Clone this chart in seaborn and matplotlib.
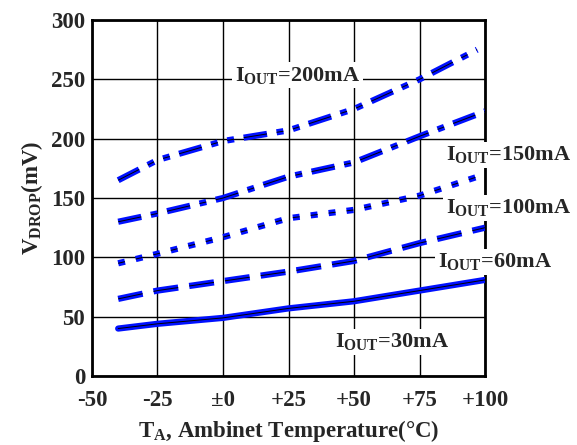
# dropout voltage vs ambient temperature, one line per output current
import matplotlib
matplotlib.use('Agg')
import matplotlib.pyplot as plt
import seaborn as sns
import pandas as pd

temps = [-40, -25, 0, 25, 50, 75, 100]
temps_200 = [-40, -25, 0, 25, 50, 75, 97]

v_30 = [40, 44, 49, 57, 63, 72, 81]
v_60 = [65, 72, 80, 88, 97, 112, 125]
v_100 = [95, 103, 117, 133, 140, 152, 170]
v_150 = [130, 137, 150, 168, 180, 202, 223]
v_200 = [165, 182, 198, 207, 225, 250, 275]

x_ticks = [-50, -25, 0, 25, 50, 75, 100]
x_tick_labels = ['-50', '-25', '±0', '+25', '+50', '+75', '+100']
y_ticks = [0, 50, 100, 150, 200, 250, 300]

sns.set_style('white')
plt.rcParams['font.family'] = ['Liberation Serif', 'DejaVu Serif']
plt.rcParams['font.weight'] = 'bold'
plt.rcParams['mathtext.fontset'] = 'custom'
plt.rcParams['mathtext.rm'] = 'Liberation Serif:bold'
plt.rcParams['mathtext.it'] = 'Liberation Serif:bold'
plt.rcParams['mathtext.bf'] = 'Liberation Serif:bold'
plt.rcParams['lines.scale_dashes'] = False

fig = plt.figure(figsize=(5.77, 4.45), dpi=100)
ax = fig.add_axes([0.1594, 0.155, 0.6812, 0.80])

series = [
    (temps, v_30, '-'),
    (temps, v_60, (0, (18, 8))),
    (temps, v_100, (0, (5, 8))),
    (temps, v_150, (0, (17, 7, 5, 7))),
    (temps_200, v_200, (0, (17, 7, 5, 7, 5, 7))),
]
for xs, ys, ls in series:
    df = pd.DataFrame({'t': xs, 'v': ys})
    sns.lineplot(data=df, x='t', y='v', ax=ax, color='#0010ff', lw=4.5,
                 linestyle=ls, zorder=3)
    sns.lineplot(data=df, x='t', y='v', ax=ax, color='black', lw=0.7,
                 linestyle=ls, zorder=4)

ax.set_xlim(-50, 100)
ax.set_ylim(0, 300)
ax.set_xticks(x_ticks)
ax.set_xticklabels(x_tick_labels)
ax.set_yticks(y_ticks)
ax.tick_params(length=0, labelsize=16.5)
ax.tick_params(axis='x', pad=10)
ax.tick_params(axis='y', pad=5)
for lab in ax.get_xticklabels() + ax.get_yticklabels():
    lab.set_fontweight('bold')
ax.grid(True, color='black', lw=1)
for s in ax.spines.values():
    s.set_linewidth(2)
    s.set_color('black')

ax.set_xlabel(r'$\mathrm{T_A}$, Ambinet Temperature(°C)', fontsize=16.5,
              fontweight='bold', labelpad=5)
ax.set_ylabel(r'$\mathrm{V_{DROP}}$(mV)', fontsize=16.5, fontweight='bold',
              labelpad=4)

box = dict(facecolor='white', edgecolor='none', pad=2)
labels = [
    (-50 + (296 - 92) / 2.6, 300 - (75 - 20) / 1.187, r'$\mathrm{I_{OUT}}$=200mA', 'center'),
    (-50 + (443 - 92) / 2.6, 300 - (155 - 20) / 1.187, r'$\mathrm{I_{OUT}}$=150mA', 'left'),
    (-50 + (443 - 92) / 2.6, 300 - (208 - 20) / 1.187, r'$\mathrm{I_{OUT}}$=100mA', 'left'),
    (-50 + (435 - 92) / 2.6, 300 - (262 - 20) / 1.187, r'$\mathrm{I_{OUT}}$=60mA', 'left'),
    (-50 + (333 - 92) / 2.6, 300 - (342 - 20) / 1.187, r'$\mathrm{I_{OUT}}$=30mA', 'left'),
]
for x, y, txt, ha in labels:
    ax.text(x, y, txt, fontsize=16, fontweight='bold', ha=ha, va='center',
            bbox=box, zorder=5, clip_on=False)

plt.savefig('out.png', dpi=100)
